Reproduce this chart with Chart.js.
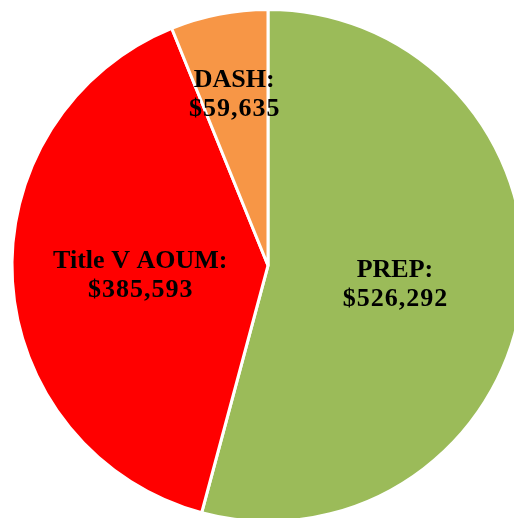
<!DOCTYPE html>
<html>
<head>
<meta charset="utf-8">
<script src="https://cdn.jsdelivr.net/npm/chart.js@4/dist/chart.umd.min.js"></script>
<style>
  html, body { margin: 0; padding: 0; background: #fff; overflow: hidden; }
  #wrap { position: absolute; left: 0; top: 0; }
</style>
</head>
<body>
<div id="wrap"><canvas id="myChart1" width="536" height="523"></canvas></div>
<script>
var categories = ['PREP', 'Title V AOUM', 'DASH'];
var amounts = [526292, 385593, 59635];
var sliceColors = ['#9BBB59', '#FF0000', '#F79646'];

// how far out (fraction of radius) each label sits
var labelDepth = [0.5, 0.5, 0.69];

function money(v) {
    return '$' + v.toLocaleString('en-US');
}

var sliceLabels = {
    id: 'sliceLabels',
    afterDatasetsDraw: function(chart) {
        var ctx = chart.ctx;
        var meta = chart.getDatasetMeta(0);
        ctx.save();
        ctx.fillStyle = '#000';
        ctx.font = 'bold 26px "Liberation Serif", "Times New Roman", serif';
        ctx.textAlign = 'center';
        ctx.textBaseline = 'alphabetic';
        meta.data.forEach(function(arc, i) {
            var p = arc.getProps(['x', 'y', 'startAngle', 'endAngle', 'outerRadius'], true);
            var mid = (p.startAngle + p.endAngle) / 2;
            var r = p.outerRadius * labelDepth[i];
            var cx = p.x + Math.cos(mid) * r;
            var cy = p.y + Math.sin(mid) * r;
            ctx.letterSpacing = '0px';
            ctx.fillText(categories[i] + ':', cx, cy - 5);
            ctx.letterSpacing = '1px';
            ctx.fillText(money(amounts[i]), cx + 0.5, cy + 24);
        });
        ctx.restore();
    }
};

document.addEventListener('DOMContentLoaded', function(){
    var ctx = document.getElementById('myChart1').getContext('2d');
    var myChart1 = new Chart(ctx, {
        type: 'pie',
        data: {
            labels: categories,
            datasets: [{
                data: amounts,
                backgroundColor: sliceColors,
                borderColor: '#ffffff',
                borderWidth: 3
            }]
        },
        options: {
            responsive: false,
            animation: false,
            layout: { padding: { top: 8 } },
            plugins: {
                legend: { display: false },
                tooltip: { enabled: false }
            }
        },
        plugins: [sliceLabels]
    });
});
</script>
</body>
</html>
